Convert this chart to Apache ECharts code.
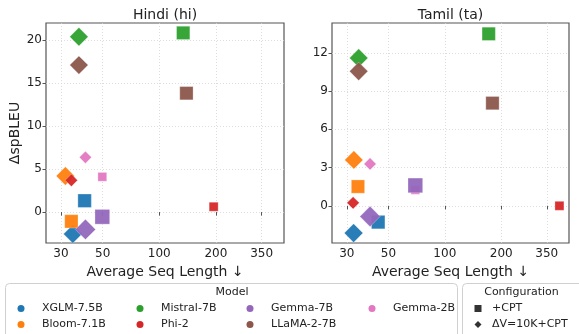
<!DOCTYPE html>
<html><head><meta charset="utf-8">
<script src="https://cdn.jsdelivr.net/npm/echarts@6/dist/echarts.min.js"></script>
<style>html,body{margin:0;padding:0;background:#fff}#c{width:579px;height:334px}</style>
</head><body><div id="c"></div>
<script>
// ---- data ----
const models = ['XGLM-7.5B', 'Bloom-7.1B', 'Mistral-7B', 'Phi-2', 'Gemma-7B', 'LLaMA-2-7B', 'Gemma-2B'];
const configs = ['+CPT', 'ΔV=10K+CPT'];
// Hindi (hi)
const hiCptLen  = [40.1, 34.1, 134, 194.5, 49.8, 139.4, 49.8];
const hiCptGain = [1.32, -1.08, 20.85, 0.62, -0.55, 13.83, 4.1];
const hiVocLen  = [34.7, 31.7, 37.4, 34.1, 40.5, 37.4, 40.5];
const hiVocGain = [-2.55, 4.2, 20.4, 3.7, -2.02, 17.1, 6.37];
// Tamil (ta)
const taCptLen  = [44.1, 34.4, 171.5, 409, 69.6, 179.6, 69.6];
const taCptGain = [-1.28, 1.51, 13.5, 0.0, 1.6, 8.06, 1.25];
const taVocLen  = [32.6, 32.7, 34.7, 32.4, 39.9, 34.7, 39.9];
const taVocGain = [-2.14, 3.6, 11.6, 0.23, -0.84, 10.56, 3.29];
// ticks
const xTicks = [30, 50, 100, 200, 350];
const hiYTicks = [0, 5, 10, 15, 20];
const taYTicks = [0, 3, 6, 9, 12];

// ---- styles ----
const FONT = 'DejaVu Sans';
const colors = ['#1f77b4', '#ff7f0e', '#2ca02c', '#d62728', '#9467bd', '#8c564b', '#e377c2'];
const sqSize = [13.5, 13.3, 13.3, 9, 14.7, 13.3, 8.8];
const drawOrder = [0, 1, 2, 3, 6, 4, 5];

const panels = [
  {title: 'Hindi (hi)', cLen: hiCptLen, cGain: hiCptGain, vLen: hiVocLen, vGain: hiVocGain, yTicks: hiYTicks, ymin: -3.6, ymax: 22.0},
  {title: 'Tamil (ta)', cLen: taCptLen, cGain: taCptGain, vLen: taVocLen, vGain: taVocGain, yTicks: taYTicks, ymin: -2.92, ymax: 14.35}
];
const grids = [
  {left: 46, top: 23, width: 238, height: 220},
  {left: 332, top: 23, width: 237, height: 220}
];

const splitStyle = {show: true, lineStyle: {color: '#d4d4d4', width: 0.8, type: [1, 2]}};

const series = [];
panels.forEach((p, pi) => {
  drawOrder.forEach(mi => {
    series.push({
      type: 'scatter', name: models[mi], xAxisIndex: pi, yAxisIndex: pi,
      itemStyle: {color: colors[mi], opacity: 0.95, borderColor: 'rgba(255,255,255,0.5)', borderWidth: 0.6},
      emphasis: {disabled: true},
      data: [
        {value: [p.cLen[mi], p.cGain[mi]], symbol: 'rect', symbolSize: sqSize[mi]},
        {value: [p.vLen[mi], p.vGain[mi]], symbol: 'diamond', symbolSize: sqSize[mi] * 1.38}
      ]
    });
  });
});
configs.forEach(c => series.push({type: 'scatter', name: c, xAxisIndex: 0, yAxisIndex: 0, data: [], itemStyle: {color: '#000'}}));

const xAxes = panels.map((p, i) => ({
  type: 'log', logBase: 10, gridIndex: i, min: 25, max: 460,
  axisLine: {show: false},
  axisTick: {show: true, customValues: xTicks, length: 3.5, lineStyle: {color: '#555'}},
  axisLabel: {customValues: xTicks, formatter: v => String(Math.round(v)), fontSize: 12, color: '#222', fontFamily: FONT, margin: 5},
  splitLine: splitStyle, minorTick: {show: false}, minorSplitLine: {show: false},
  name: 'Average Seq Length ↓', nameLocation: 'middle', nameGap: 19,
  nameTextStyle: {fontSize: 14, color: '#222', fontFamily: FONT}
}));
const yAxes = panels.map((p, i) => ({
  type: 'value', gridIndex: i, min: p.ymin, max: p.ymax,
  axisLine: {show: false},
  axisTick: {show: true, customValues: p.yTicks, length: 3.5, lineStyle: {color: '#555'}},
  axisLabel: {customValues: p.yTicks, fontSize: 12, color: '#222', fontFamily: FONT, margin: 4},
  splitLine: splitStyle,
  name: i === 0 ? 'ΔspBLEU' : '', nameLocation: 'middle', nameGap: 21, nameRotate: 90,
  nameTextStyle: {fontSize: 14, color: '#222', fontFamily: FONT}
}));

const modelCols = [[0, 1], [2, 3], [4, 5], [6]];
const colLeft = [17.5, 136.5, 246.5, 368.5];
const legends = modelCols.map((col, i) => ({
  orient: 'vertical', left: colLeft[i], top: 301, icon: 'circle',
  itemWidth: 7, itemHeight: 7, itemGap: 1, selectedMode: false,
  itemStyle: {borderWidth: 0, opacity: 1},
  textStyle: {fontSize: 11, color: '#222', fontFamily: FONT, lineHeight: 15, padding: [0, 0, 0, 12.5]},
  padding: 0,
  data: col.map(k => models[k])
}));
legends.push({
  orient: 'vertical', left: 474.5, top: 301, itemWidth: 7, itemHeight: 7, itemGap: 1,
  selectedMode: false, padding: 0, itemStyle: {borderWidth: 0},
  textStyle: {fontSize: 11, color: '#222', fontFamily: FONT, lineHeight: 15, padding: [0, 0, 0, 5.5]},
  data: [{name: configs[0], icon: 'rect'}, {name: configs[1], icon: 'diamond'}]
});

const chart = echarts.init(document.getElementById('c'), null, {renderer: 'canvas'});
chart.setOption({
  animation: false,
  backgroundColor: '#fff',
  textStyle: {fontFamily: FONT},
  title: panels.map((p, i) => ({
    text: p.title, left: grids[i].left + grids[i].width / 2, textAlign: 'center', top: 8, padding: 0,
    textStyle: {fontSize: 14, fontWeight: 'normal', color: '#222', fontFamily: FONT}
  })),
  grid: grids.map(g => Object.assign({show: true, borderColor: '#555', borderWidth: 1.2, backgroundColor: 'transparent'}, g)),
  xAxis: xAxes,
  yAxis: yAxes,
  legend: legends,
  graphic: [
    {type: 'rect', z: 0, shape: {x: 5.5, y: 283.5, width: 452, height: 60, r: 4}, style: {fill: 'none', stroke: '#d0d0d0', lineWidth: 1}},
    {type: 'rect', z: 0, shape: {x: 462.5, y: 283.5, width: 130, height: 60, r: 4}, style: {fill: 'none', stroke: '#d0d0d0', lineWidth: 1}},
    {type: 'text', x: 232, y: 292, style: {text: 'Model', font: '11px "DejaVu Sans"', fill: '#222', align: 'center', verticalAlign: 'middle'}},
    {type: 'text', x: 521.5, y: 292, style: {text: 'Configuration', font: '11px "DejaVu Sans"', fill: '#222', align: 'center', verticalAlign: 'middle'}}
  ],
  series: series
});
</script></body></html>
